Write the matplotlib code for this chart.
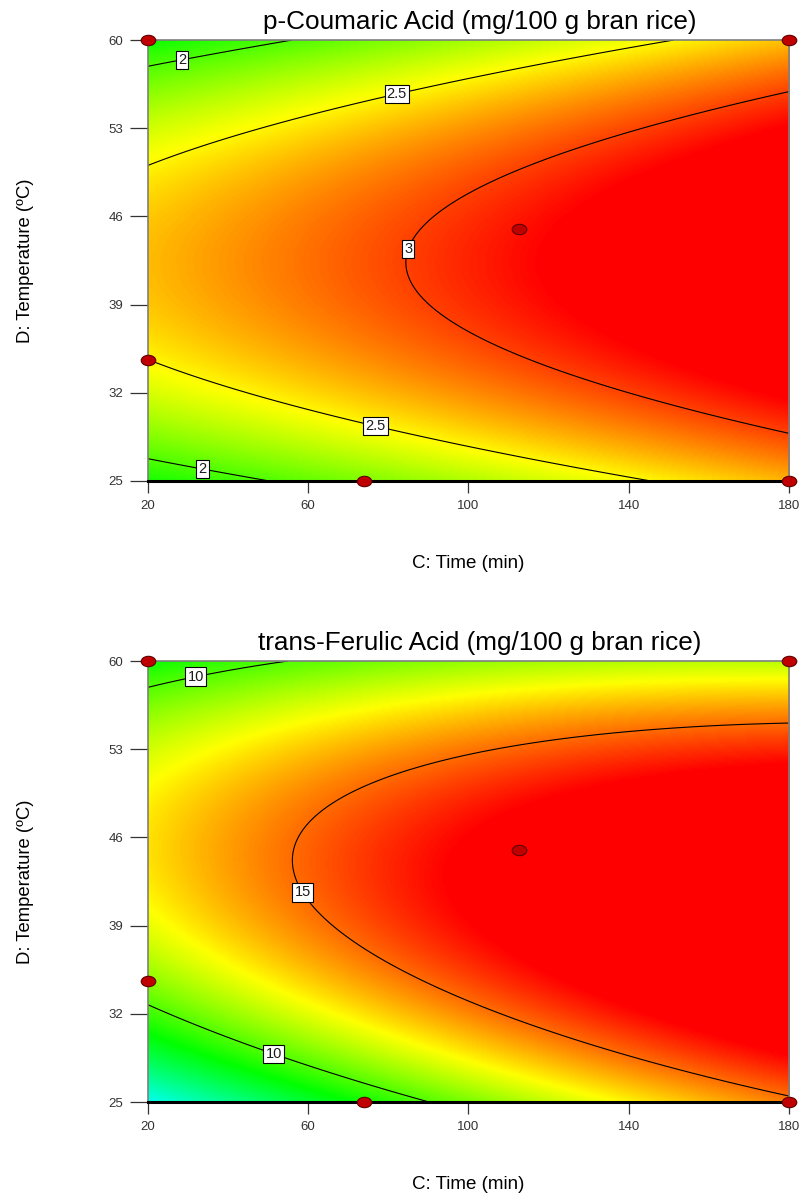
import numpy as np
import matplotlib
matplotlib.use('Agg')
import matplotlib.pyplot as plt
from matplotlib.colors import LinearSegmentedColormap
from matplotlib.path import Path

plt.rcParams['font.family'] = ['Liberation Sans', 'DejaVu Sans']

# design space (actual units)
time_range = [20, 180]
temp_range = [25, 60]
time_ticks = [20, 60, 100, 140, 180]
temp_ticks = [25, 32, 39, 46, 53, 60]

# runs of the design that fall on this C-D slice
design_time = [20, 180, 20, 73.9, 112.6, 180]
design_temp = [60, 60, 34.6, 25, 45, 25]

# quadratic models in coded units: intercept, C, D, CD, C^2, D^2
coumaric_coef = [3.082, 0.42, -0.015, 0.0, 0.0, -0.836]
coumaric_levels = [2, 2.5, 3]
coumaric_color_range = [0.38, 3.18]

ferulic_coef = [16.898, 3.13, 0.207, -1.751, -0.776, -6.08]
ferulic_levels = [10, 15]
ferulic_color_range = [0.7, 16.7]

# where the contour labels go
coumaric_label_pos = [(28, 59.2), (81.7, 56.3), (85.9, 43.3), (77.4, 30.1), (34, 26.7)]
ferulic_label_pos = [(31.7, 59.1), (60.4, 42.0), (52.0, 29.4)]

cmap = LinearSegmentedColormap.from_list(
    'de', ['#0000ff', '#00ffff', '#00ff00', '#ffff00', '#ff0000'])

circle = Path.unit_circle()
oval = Path(circle.vertices * [1.4, 1.0], circle.codes)


def draw_panel(ax, coef, levels, crange, label_pos, title):
    C = np.linspace(time_range[0], time_range[1], 401)
    D = np.linspace(temp_range[0], temp_range[1], 301)
    CC, DD = np.meshgrid(C, D)
    x = (CC - 100) / 80
    y = (DD - 42.5) / 17.5
    b0, b1, b2, b12, b11, b22 = coef
    Z = b0 + b1 * x + b2 * y + b12 * x * y + b11 * x ** 2 + b22 * y ** 2

    ax.imshow(Z, extent=[time_range[0], time_range[1], temp_range[0], temp_range[1]],
              origin='lower', aspect='auto', cmap=cmap,
              vmin=crange[0], vmax=crange[1], interpolation='bilinear')
    cs = ax.contour(CC, DD, Z, levels=levels, colors='black', linewidths=0.8)
    labels = ax.clabel(cs, fmt='%g', inline=False, manual=label_pos, fontsize=10.5)
    for t in labels:
        t.set_rotation(0)
        t.set_color('#1a1a1a')
        t.set_bbox(dict(boxstyle='square,pad=0.15', fc='white', ec='black', lw=0.8))

    ax.scatter(design_time, design_temp, marker=oval, s=110, c='#c00000',
               edgecolors='#600000', linewidths=0.8, zorder=5, clip_on=False)

    ax.set_xlim(time_range)
    ax.set_ylim(temp_range)
    ax.set_xticks(time_ticks)
    ax.set_yticks(temp_ticks)
    ax.tick_params(axis='y', length=13, width=0.9, pad=5, colors='#333333', labelsize=9.5)
    ax.tick_params(axis='x', length=8.5, width=0.9, pad=5, colors='#333333', labelsize=9.5)

    for side in ['top', 'left', 'right']:
        ax.spines[side].set_color('#7f7f7f')
        ax.spines[side].set_linewidth(1.2)
    ax.spines['bottom'].set_color('black')
    ax.spines['bottom'].set_linewidth(2.2)

    ax.set_title(title, fontsize=18.8, pad=8, x=0.518)
    ax.set_xlabel('C: Time (min)', fontsize=13.5, va='top')
    ax.xaxis.set_label_coords(0.5, -0.168)
    ax.set_ylabel('D: Temperature (ºC)', fontsize=13.3)
    ax.yaxis.set_label_coords(-0.178, 0.5)


fig = plt.figure(figsize=(7.99, 11.98), dpi=100)
ax1 = fig.add_axes([0.1852, 0.5985, 0.8023, 0.3681])
ax2 = fig.add_axes([0.1852, 0.0801, 0.8023, 0.3681])

draw_panel(ax1, coumaric_coef, coumaric_levels, coumaric_color_range,
           coumaric_label_pos, 'p-Coumaric Acid (mg/100 g bran rice)')
draw_panel(ax2, ferulic_coef, ferulic_levels, ferulic_color_range,
           ferulic_label_pos, 'trans-Ferulic Acid (mg/100 g bran rice)')

fig.savefig('out.png', dpi=100)
